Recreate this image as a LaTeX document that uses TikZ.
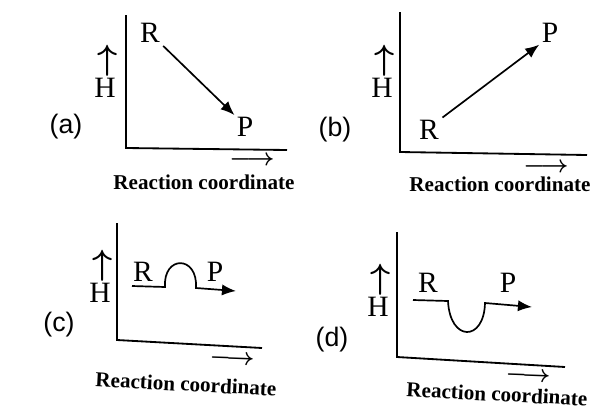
\documentclass[tikz,border=0pt]{standalone}
\usepackage{fontspec}
\setmainfont{Liberation Serif}
\setsansfont{Liberation Sans}
\usepackage{tikz}
\usetikzlibrary{calc, positioning, arrows.meta}

\begin{document}
\begin{tikzpicture}[x=0.025cm, y=-0.025cm,
  axis/.style={line width=1.3pt, line join=miter},
  flow/.style={line width=1.2pt, -{Latex[length=10pt, width=8pt]}},
  lbl/.style={font=\fontsize{21}{21}\selectfont, inner sep=0pt},
  tag/.style={font=\sffamily\fontsize{19}{19}\selectfont, inner sep=0pt},
  upsym/.style={font=\fontsize{24}{24}\selectfont\boldmath, inner sep=0pt},
  rightsym/.style={font=\fontsize{16}{16}\selectfont\boldmath, inner sep=0pt},
  rclabel/.style={font=\fontsize{15}{15}\selectfont\bfseries, inner sep=0pt},
  node distance=1pt,
]
  \useasboundingbox (0,0) rectangle (605,409);

  \draw[axis] (126,15) -- (126,148) -- (287,150);
  \node[lbl] (Ra) at (150,33) {R};
  \node[lbl] (Pa) at (245,127) {P};
  \draw[flow, shorten <=3pt, shorten >=2pt] (Ra.south east) -- (Pa.north west);
  \node[lbl] (Ha) at (105,88) {H};
  \node[upsym, above=of Ha, xshift=2] (ua) {$\uparrow$};
  \node[tag] (ta) at (66,127) {(a)};
  \node[rightsym] (xa) at (252,161) {$\longrightarrow$};
  \node[rclabel] (rca) at (204,182) {Reaction coordinate};

  \draw[axis] (400,12) -- (400,152) -- (587,155);
  \node[lbl] (Rb) at (429,130) {R};
  \node[lbl] (Pb) at (550,33) {P};
  \draw[flow, shorten <=3pt, shorten >=2pt] (Rb.north east) -- (Pb.south west);
  \node[lbl] (Hb) at (382,88) {H};
  \node[upsym, above=of Hb, xshift=2] (ub) {$\uparrow$};
  \node[tag] (tb) at (335,130) {(b)};
  \node[rightsym] (xb) at (546,168) {$\longrightarrow$};
  \node[rclabel] (rcb) at (500,184) {Reaction coordinate};

  \draw[axis] (117,223) -- (117,340) -- (262,348);
  \node[lbl] (Rc) at (143,272) {R};
  \node[lbl] (Pc) at (215,272) {P};
  \draw[flow] (132,286) -- (165,287) .. controls (163,255) and (198,255) .. (196,288) -- (236,291);
  \node[lbl] (Hc) at (100,293) {H};
  \node[upsym, above=of Hc, xshift=2] (uc) {$\uparrow$};
  \node[tag] (tc) at (59,325) {(c)};
  \node[rightsym, rotate=-2] (xc) at (232,360) {$\longrightarrow$};
  \node[rclabel, rotate=-3] (rcc) at (186,384) {Reaction coordinate};

  \draw[axis] (397,232) -- (397,357) -- (565,367);
  \node[lbl] (Rd) at (428,283) {R};
  \node[lbl] (Pd) at (508,283) {P};
  \draw[flow] (413,300) -- (448,301) .. controls (450,342) and (484,342) .. (485,303) -- (532,307);
  \node[lbl] (Hd) at (378,307) {H};
  \node[upsym, above=of Hd, xshift=2] (ud) {$\uparrow$};
  \node[tag] (td) at (332,340) {(d)};
  \node[rightsym, rotate=-2] (xd) at (528,377) {$\longrightarrow$};
  \node[rclabel, rotate=-3] (rcd) at (497,394) {Reaction coordinate};
\end{tikzpicture}
\end{document}
